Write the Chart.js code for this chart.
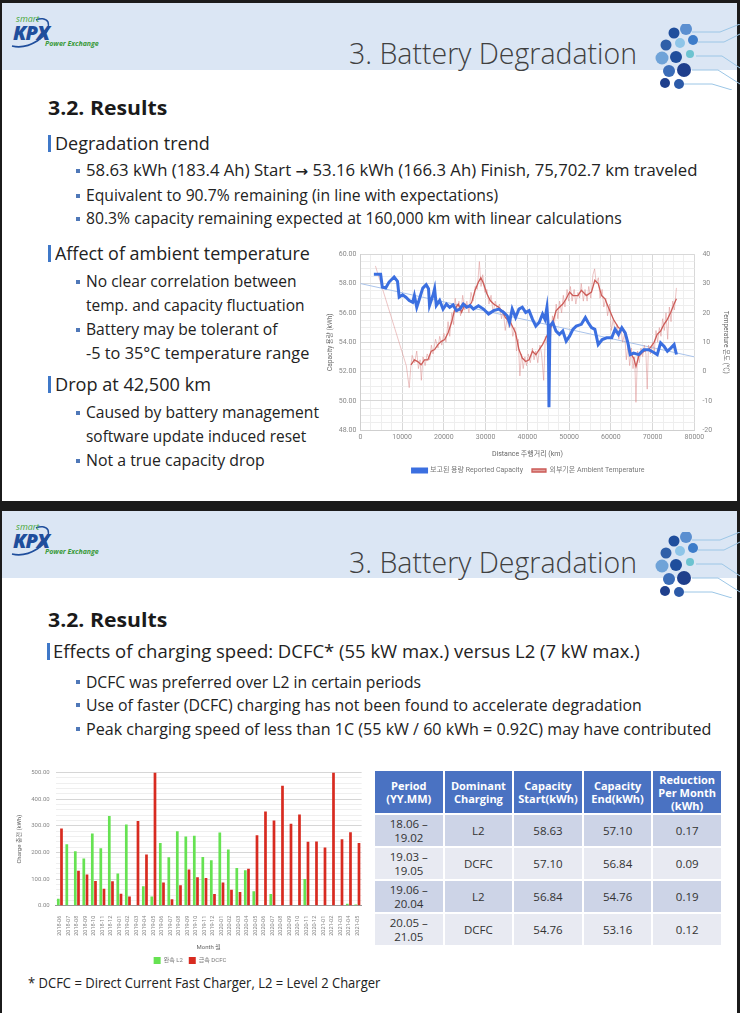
<!DOCTYPE html>
<html>
<head>
<meta charset="utf-8">
<script src="https://cdn.jsdelivr.net/npm/chart.js@4.4.1/dist/chart.umd.min.js"></script>
<style>
  html, body { margin: 0; padding: 0; }
  body { width: 740px; height: 1013px; background: #1b1b1b; position: relative; overflow: hidden; font-family: 'Open Sans', 'Noto Sans', sans-serif; color: #222; }
  .slide { position: absolute; left: 2px; width: 735px; background: #fff; overflow: hidden; }
  .band { position: absolute; left: 0; top: 0; width: 100%; height: 67px; background: #dbe6f4; }
  .t { position: absolute; white-space: nowrap; line-height: 1; transform-origin: left center; }
  .h2 { font-weight: 700; font-size: 20px; color: #1a1a1a; }
  .h3 { font-size: 18px; color: #222; }
  .b { font-size: 15.5px; color: #222; }
  .b2 { font-size: 16px; color: #222; }
  .arrow { font-family: 'DejaVu Sans', sans-serif; font-weight: 700; font-size: 14px; }
  .mark { position: absolute; width: 2.5px; height: 17px; background: #3f78c8; }
  .sq { position: absolute; width: 4px; height: 4px; background: #4f78b8; }
  .title { font-size: 28.5px; font-weight: 300; color: #404040; }
  .logo-smart { font-size: 9px; color: #4aa83c; font-style: italic; }
  .logo-kpx { font-size: 20px; font-weight: 800; font-style: italic; color: #1f4e9c; letter-spacing: -1px; }
  .logo-pe { font-size: 7px; font-style: italic; color: #3a9a3a; font-weight: 700; }
  table.tb { position: absolute; left: 373px; top: 769px; width: 350px; border-collapse: collapse; table-layout: fixed; font-family: 'Open Sans', sans-serif; }
  table.tb th, table.tb td { border: 2px solid #fff; text-align: center; padding: 0; }
  table.tb th { background: #4a72c2; color: #fff; font-size: 11px; font-weight: 700; height: 42px; line-height: 13px; }
  table.tb td { font-size: 11.5px; color: #333; height: 31px; line-height: 14px; }
  table.tb tr.odd td { background: #cdd4e7; }
  table.tb tr.even td { background: #e8eaf2; }
</style>
</head>
<body>

<div class="slide" style="top:3px;height:498px;"><div class="band"></div></div>
<div class="slide" style="top:511px;height:502px;"><div class="band"></div></div>

<svg style="position:absolute;left:8px;top:16px;" width="50" height="34"><path d="M4,30 C20,34 44,20 40,6 C38,2 32,2 28,4" fill="none" stroke="#1f4e9c" stroke-width="1.6"/></svg>
<svg style="position:absolute;left:8px;top:524px;" width="50" height="34"><path d="M4,30 C20,34 44,20 40,6 C38,2 32,2 28,4" fill="none" stroke="#1f4e9c" stroke-width="1.6"/></svg>
<div class="t logo-smart" style="left:16px;top:14px;">smart</div>
<div class="t logo-kpx" style="left:13px;top:23px;">KPX</div>
<div class="t logo-pe" style="left:45px;top:40px;">Power Exchange</div>
<div class="t logo-smart" style="left:16px;top:522px;">smart</div>
<div class="t logo-kpx" style="left:13px;top:531px;">KPX</div>
<div class="t logo-pe" style="left:45px;top:548px;">Power Exchange</div>

<div class="t title" style="left:349px;top:39px;" data-w="288">3. Battery Degradation</div>
<div class="t title" style="left:349px;top:548px;" data-w="288">3. Battery Degradation</div>

<svg id="net1" style="position:absolute;left:654px;top:24px;" width="86" height="66"></svg>
<svg id="net2" style="position:absolute;left:654px;top:532px;" width="86" height="66"></svg>

<!-- slide 1 text -->
<div class="t h2" style="left:48px;top:98px;" data-w="119">3.2. Results</div>
<div class="mark" style="left:48px;top:135px;"></div>
<div class="t h3" style="left:55px;top:134px;" data-w="155">Degradation trend</div>
<div class="sq" style="left:76px;top:169px;"></div>
<div class="t b" style="left:86px;top:163px;" data-w="612">58.63 kWh (183.4 Ah) Start <span class="arrow">→</span> 53.16 kWh (166.3 Ah) Finish, 75,702.7 km traveled</div>
<div class="sq" style="left:76px;top:194px;"></div>
<div class="t b" style="left:86px;top:188px;" data-w="412">Equivalent to 90.7% remaining (in line with expectations)</div>
<div class="sq" style="left:76px;top:217px;"></div>
<div class="t b" style="left:86px;top:211px;" data-w="536">80.3% capacity remaining expected at 160,000 km with linear calculations</div>

<div class="mark" style="left:48px;top:245px;"></div>
<div class="t h3" style="left:55px;top:244px;" data-w="255">Affect of ambient temperature</div>
<div class="sq" style="left:76px;top:280px;"></div>
<div class="t b" style="left:86px;top:274px;" data-w="211">No clear correlation between</div>
<div class="t b" style="left:86px;top:298px;" data-w="219">temp. and capacity fluctuation</div>
<div class="sq" style="left:76px;top:328px;"></div>
<div class="t b" style="left:86px;top:322px;" data-w="191">Battery may be tolerant of</div>
<div class="t b" style="left:86px;top:346px;" data-w="223">-5 to 35°C temperature range</div>

<div class="mark" style="left:48px;top:376px;"></div>
<div class="t h3" style="left:55px;top:375px;" data-w="156">Drop at 42,500 km</div>
<div class="sq" style="left:76px;top:411px;"></div>
<div class="t b" style="left:86px;top:405px;" data-w="233">Caused by battery management</div>
<div class="t b" style="left:86px;top:429px;" data-w="220">software update induced reset</div>
<div class="sq" style="left:76px;top:459px;"></div>
<div class="t b" style="left:86px;top:453px;" data-w="179">Not a true capacity drop</div>

<!-- slide 2 text -->
<div class="t h2" style="left:48px;top:610px;" data-w="119">3.2. Results</div>
<div class="mark" style="left:47px;top:643px;"></div>
<div class="t h3" style="left:53px;top:642px;" data-w="587">Effects of charging speed: DCFC* (55 kW max.) versus L2 (7 kW max.)</div>
<div class="sq" style="left:76px;top:680px;"></div>
<div class="t b2" style="left:86px;top:674px;" data-w="335">DCFC was preferred over L2 in certain periods</div>
<div class="sq" style="left:76px;top:703px;"></div>
<div class="t b2" style="left:86px;top:697px;" data-w="556">Use of faster (DCFC) charging has not been found to accelerate degradation</div>
<div class="sq" style="left:76px;top:727px;"></div>
<div class="t b2" style="left:86px;top:721px;" data-w="625">Peak charging speed of less than 1C (55 kW / 60 kWh = 0.92C) may have contributed</div>
<div class="t b" style="left:28px;top:976px;font-size:14px;" data-w="352">* DCFC = Direct Current Fast Charger, L2 = Level 2 Charger</div>

<div style="position:absolute;left:325px;top:242px;width:407px;height:242px;"><canvas id="lineChart"></canvas></div>
<div style="position:absolute;left:14px;top:763px;width:352px;height:211px;"><canvas id="barChart"></canvas></div>

<table class="tb">
  <thead><tr><th>Period<br>(YY.MM)</th><th>Dominant<br>Charging</th><th>Capacity<br>Start(kWh)</th><th>Capacity<br>End(kWh)</th><th>Reduction<br>Per Month<br>(kWh)</th></tr></thead>
  <tbody id="tbBody"></tbody>
</table>

<script>
// ---- line chart data (distance km, values) ----
const capKm = [3230, 4850, 5250, 6060, 6870, 8080, 8890, 9290, 10100, 10900, 11700, 12520, 12930, 13500, 14140, 14950, 15760, 16320, 16560, 17370, 17780, 18180, 18990, 19800, 20600, 21400, 22200, 23000, 23840, 24640, 25450, 26260, 27070, 28280, 29490, 30700, 31920, 33130, 34340, 35150, 35710, 36360, 37170, 37980, 38780, 39590, 40400, 41210, 42020, 42820, 43630, 44200, 44680, 45000, 45170, 45400, 46060, 46860, 47670, 48480, 49290, 50100, 50900, 51710, 52920, 53890, 54540, 55350, 56160, 56960, 57930, 58980, 60200, 61000, 61810, 62620, 63430, 64070, 64640, 65450, 66660, 67870, 69080, 70300, 71100, 71910, 72720, 73530, 74340, 75140, 75700];
const capKwh = [58.64, 58.64, 57.76, 57.70, 58.10, 58.45, 58.15, 57.07, 57.23, 57.07, 56.84, 56.72, 57.18, 56.38, 56.95, 57.69, 57.92, 57.65, 56.50, 57.18, 57.65, 56.50, 56.84, 56.26, 56.60, 56.38, 56.54, 56.15, 56.26, 56.60, 56.38, 56.49, 56.26, 56.49, 56.26, 55.92, 56.15, 56.26, 56.03, 55.80, 55.34, 56.26, 55.68, 56.26, 56.38, 56.03, 56.15, 55.57, 55.10, 55.34, 55.92, 55.57, 56.38, 55.10, 49.57, 55.10, 55.34, 54.76, 54.53, 54.76, 54.07, 54.41, 54.88, 55.10, 55.22, 55.68, 55.34, 54.99, 54.88, 53.84, 54.18, 54.30, 54.30, 54.88, 54.53, 54.99, 54.64, 53.95, 53.15, 53.26, 53.15, 53.49, 53.49, 53.30, 53.15, 53.95, 53.72, 53.38, 53.60, 53.84, 53.16];

const trendKm = [0, 80000];
const trendKwh = [58.0, 53.0];

const tempKm = [12120, 12930, 13740, 14540, 15350, 16160, 16970, 17780, 18580, 19390, 20200, 21010, 21820, 22620, 23430, 24240, 25050, 25860, 26660, 27470, 28280, 28850, 29490, 30300, 31110, 31920, 33130, 33940, 34740, 35960, 37170, 37980, 38780, 39590, 40400, 41210, 42020, 42820, 43630, 44440, 45250, 46060, 46860, 47670, 48480, 49290, 50100, 50900, 52110, 52920, 54140, 55350, 56160, 56960, 57770, 58580, 59390, 60600, 61810, 63020, 63830, 64640, 65450, 66010, 66660, 67870, 69080, 70300, 71100, 71910, 72720, 73530, 74340, 75140, 75700];
const tempC = [2.3, 4.0, 3.4, 2.3, 4.0, 4.0, 6.9, 7.5, 9.2, 10.3, 10.9, 13.2, 16.7, 21.3, 23.0, 20.2, 23.0, 21.9, 23.6, 27.7, 30.5, 32.0, 30.0, 26.5, 24.2, 23.0, 21.9, 20.7, 18.4, 16.7, 13.2, 7.5, 4.6, 3.4, 4.0, 6.9, 5.7, 7.5, 9.2, 11.5, 13.8, 16.7, 20.7, 21.9, 23.0, 24.8, 27.1, 25.9, 25.9, 27.7, 25.9, 27.1, 31.1, 30.0, 25.9, 24.8, 21.9, 17.8, 15.0, 13.8, 11.5, 6.3, 4.6, 1.7, 5.2, 6.9, 7.5, 9.8, 12.7, 13.8, 16.1, 17.8, 20.2, 23.0, 24.8];

const rawKm = [3600, 11000, 11700, 12100, 12400, 13000, 13500, 13900, 14300, 14600, 15000, 15500, 16000, 16600, 17000, 17400, 18000, 18600, 19000, 19500, 20000, 20500, 21000, 21400, 21900, 22300, 22700, 23200, 23600, 24000, 24500, 25000, 25500, 26000, 26500, 27000, 27500, 28000, 28500, 28900, 29300, 29800, 30300, 30800, 31300, 31800, 32300, 32800, 33300, 33800, 34200, 34700, 35100, 35600, 36000, 36500, 37000, 37400, 37800, 38200, 38600, 39000, 39400, 39800, 40200, 40700, 41200, 41600, 42000, 42500, 43000, 43400, 43900, 44300, 44800, 45200, 45600, 46000, 46400, 46900, 47300, 47700, 48200, 48600, 49000, 49500, 49900, 50300, 50700, 51200, 51600, 52100, 52500, 52900, 53400, 53800, 54300, 54700, 55200, 55700, 56100, 56500, 57000, 57400, 57900, 58300, 58800, 59200, 59700, 60100, 60600, 61000, 61500, 61900, 62400, 62800, 63300, 63700, 64100, 64500, 64900, 65300, 65700, 66000, 66400, 66800, 67200, 67600, 68000, 68400, 68700, 69000, 69500, 70000, 70400, 70800, 71200, 71600, 72000, 72400, 72800, 73200, 73600, 74000, 74400, 74800, 75200, 75700];
const rawC = [36, 2, -5.5, 2, 5.5, 3, 7, 1, 4, -3, 5, 2, 6, 4, 9, 6, 11, 8, 12, 9, 13, 10, 17, 12, 20, 16, 25, 20, 24, 19, 26, 21, 24, 20, 27, 24, 29, 28, 37.5, 29, 33, 27, 28, 23, 26, 20, 24, 21, 23, 18, 21, 14, 18, 15, 19, 12, 15, 7, 11, -1.5, 6, 1, 5, 2, 6, 3, 8, 4, 7, 3, 9, 6, -3, 12, 9, 14, 12, 19, 15, 23, 18, 24, 20, 26, 22, 28, 24, 29, 24, 28, 23, 27, 25, 30, 24, 28, 24, 29, 25, 33, 35, 30, 32, 25, 28, 22, 25, 19, 23, 14, 18, 13, 16, 11, 15, 10, 13, 4, 9, 2, 8, 1, 5, -10.5, 7, 3, 8, 5, 9, 6, -6, 9, 6, 10, 7, 14, 10, 15, 12, 18, 14, 20, 11, 22, 17, 24, 21, 28.5];

// ---- bar chart data ----
const months = ['2018-06', '2018-07', '2018-08', '2018-09', '2018-10', '2018-11', '2018-12', '2019-01', '2019-02', '2019-03', '2019-04', '2019-05', '2019-06', '2019-07', '2019-08', '2019-09', '2019-10', '2019-11', '2019-12', '2020-01', '2020-02', '2020-03', '2020-04', '2020-05', '2020-06', '2020-07', '2020-08', '2020-09', '2020-10', '2020-11', '2020-12', '2021-01', '2021-02', '2021-03', '2021-04', '2021-05'];
const l2Kwh = [26, 231, 205, 177, 271, 216, 337, 121, 305, 0, 73, 35, 236, 182, 280, 260, 263, 183, 171, 275, 211, 142, 133, 54, 0, 44, 0, 0, 0, 100, 0, 0, 0, 0, 7, 5];
const dcfcKwh = [290, 0, 131, 117, 93, 64, 92, 45, 35, 318, 192, 500, 87, 24, 77, 136, 107, 104, 44, 87, 60, 52, 139, 265, 354, 320, 451, 308, 343, 240, 241, 219, 500, 250, 276, 236];

// ---- table data ----
const periods = ['18.06 –<br>19.02', '19.03 –<br>19.05', '19.06 –<br>20.04', '20.05 –<br>21.05'];
const dominant = ['L2', 'DCFC', 'L2', 'DCFC'];
const capStart = ['58.63', '57.10', '56.84', '54.76'];
const capEnd = ['57.10', '56.84', '54.76', '53.16'];
const perMonth = ['0.17', '0.09', '0.19', '0.12'];

document.getElementById('tbBody').innerHTML = periods.map((p, i) => `
  <tr class="${i % 2 ? 'even' : 'odd'}">
    <td>${p}</td><td>${dominant[i]}</td><td>${capStart[i]}</td><td>${capEnd[i]}</td><td>${perMonth[i]}</td>
  </tr>`).join('');

// squeeze/stretch each slide line to the width it has on the slide
function fitText() {
  document.querySelectorAll('[data-w]').forEach(el => {
    el.style.transform = `scaleX(${el.dataset.w / el.offsetWidth})`;
  });
}
fitText();
document.fonts.ready.then(fitText);

// decorative header graphic
const dots = [
  [20, 9, 5.5, '#1f4e9c'], [32, 5, 6, '#5b8fd0'], [12, 21, 5.5, '#2f5fa8'], [26, 19, 5, '#8ec5e8'],
  [39, 16, 5, '#3d7cc9'], [8, 34, 6.5, '#6fa3d8'], [22, 33, 6, '#1f4e9c'], [36, 30, 4, '#6cc3d0'],
  [15, 47, 6, '#3b6db8'], [30, 46, 7, '#1f3f8c'], [11, 59, 5, '#1f3f8c'], [25, 60, 5, '#2c5aa8']
];
['net1', 'net2'].forEach(id => {
  const svg = document.getElementById(id);
  let s = '';
  [[38, 8, 66, 8, 86, 0], [44, 18, 70, 18, 86, 10], [42, 32, 68, 32, 86, 44], [38, 46, 64, 46, 86, 60], [30, 60, 58, 60, 78, 66]].forEach(l => {
    s += `<polyline points="${l[0]},${l[1]} ${l[2]},${l[3]} ${l[4]},${l[5]}" fill="none" stroke="#9cc6e6" stroke-width="1"/>`;
  });
  dots.forEach(d => { s += `<circle cx="${d[0]}" cy="${d[1]}" r="${d[2]}" fill="${d[3]}"/>`; });
  svg.innerHTML = s;
});

const zip = (xs, ys) => xs.map((x, i) => ({ x, y: ys[i] }));

Chart.defaults.font.family = "Roboto, 'Noto Sans CJK KR', sans-serif";
Chart.defaults.color = '#777';
Chart.defaults.animation = false;

new Chart(document.getElementById('lineChart'), {
  type: 'line',
  data: {
    datasets: [
      { label: '보고된 용량 Reported Capacity', data: zip(capKm, capKwh), yAxisID: 'y', borderColor: '#3b6fe0', backgroundColor: '#3b6fe0', borderWidth: 3, pointRadius: 0, order: 1 },
      { label: '외부기온 Ambient Temperature', data: zip(tempKm, tempC), yAxisID: 'y1', borderColor: '#cc5b57', backgroundColor: '#e3a19e', borderWidth: 1.3, pointRadius: 0, order: 2 },
      { label: 'raw', data: zip(rawKm, rawC), yAxisID: 'y1', borderColor: 'rgba(220,140,140,0.5)', borderWidth: 1, pointRadius: 0, order: 3 },
      { label: 'trend', data: zip(trendKm, trendKwh), yAxisID: 'y', borderColor: '#a9c3ea', borderWidth: 1, pointRadius: 0, order: 4 }
    ]
  },
  options: {
    responsive: true,
    maintainAspectRatio: false,
    layout: { padding: { top: 0, right: 0, left: 0, bottom: 0 } },
    plugins: {
      tooltip: { enabled: false },
      legend: {
        position: 'bottom',
        labels: { filter: item => item.datasetIndex < 2, boxWidth: 14, boxHeight: 3, font: { size: 7 }, color: '#777', padding: 9 }
      }
    },
    scales: {
      x: {
        type: 'linear', min: 0, max: 80000,
        ticks: { stepSize: 2500, autoSkip: false, maxRotation: 0, font: { size: 7 }, color: '#888', callback: v => v % 10000 === 0 ? v : '' },
        grid: { color: c => c.tick && c.tick.value % 10000 === 0 ? '#d8d8d8' : '#eeeeee', drawTicks: false },
        border: { color: '#cfcfcf' },
        title: { display: true, text: 'Distance 주행거리 (km)', font: { size: 7 }, color: '#666', padding: { top: 5, bottom: 0 } }
      },
      y: {
        position: 'left', min: 48, max: 60,
        ticks: { stepSize: 0.5, autoSkip: false, font: { size: 7 }, color: '#888', padding: 4, callback: v => v % 2 === 0 ? v.toFixed(2) : '' },
        grid: { color: c => c.tick && c.tick.value % 2 === 0 ? '#d8d8d8' : '#eeeeee', drawTicks: false },
        border: { color: '#cfcfcf' },
        title: { display: true, text: 'Capacity 용량 (kWh)', font: { size: 6.5 }, color: '#666', padding: 1 }
      },
      y1: {
        position: 'right', min: -20, max: 40,
        ticks: { stepSize: 10, font: { size: 7 }, color: '#888', padding: 8 },
        grid: { drawOnChartArea: false, drawTicks: false },
        border: { display: false },
        title: { display: true, text: 'Temperature 온도 (℃)', font: { size: 6.5 }, color: '#666', padding: 2 }
      }
    }
  }
});

new Chart(document.getElementById('barChart'), {
  type: 'bar',
  data: {
    labels: months,
    datasets: [
      { label: '완속 L2', data: l2Kwh, backgroundColor: '#66e252', categoryPercentage: 0.75, barPercentage: 0.85 },
      { label: '급속 DCFC', data: dcfcKwh, backgroundColor: '#d82b20', categoryPercentage: 0.75, barPercentage: 0.85 }
    ]
  },
  options: {
    responsive: true,
    maintainAspectRatio: false,
    layout: { padding: { top: 4, right: 0 } },
    plugins: {
      tooltip: { enabled: false },
      legend: { position: 'bottom', labels: { boxWidth: 7, boxHeight: 7, font: { size: 6 }, color: '#777', padding: 6 } }
    },
    scales: {
      x: {
        grid: { display: false },
        border: { color: '#999' },
        ticks: { minRotation: 90, maxRotation: 90, autoSkip: false, font: { size: 5.5 }, color: '#888', padding: 2 },
        title: { display: true, text: 'Month 월', font: { size: 6 }, color: '#666', padding: { top: 6, bottom: 0 } }
      },
      y: {
        min: 0, max: 500,
        ticks: { stepSize: 20, autoSkip: false, font: { size: 6 }, color: '#888', padding: 6, callback: v => v % 100 === 0 ? v.toFixed(2) : '' },
        grid: { color: c => c.tick && c.tick.value === 0 ? '#999' : (c.tick && c.tick.value % 100 === 0 ? '#d6d6d6' : '#efefef'), drawTicks: false },
        border: { display: false },
        title: { display: true, text: 'Charge 충전 (kWh)', font: { size: 6 }, color: '#666', padding: 2 }
      }
    }
  }
});
</script>
</body>
</html>
